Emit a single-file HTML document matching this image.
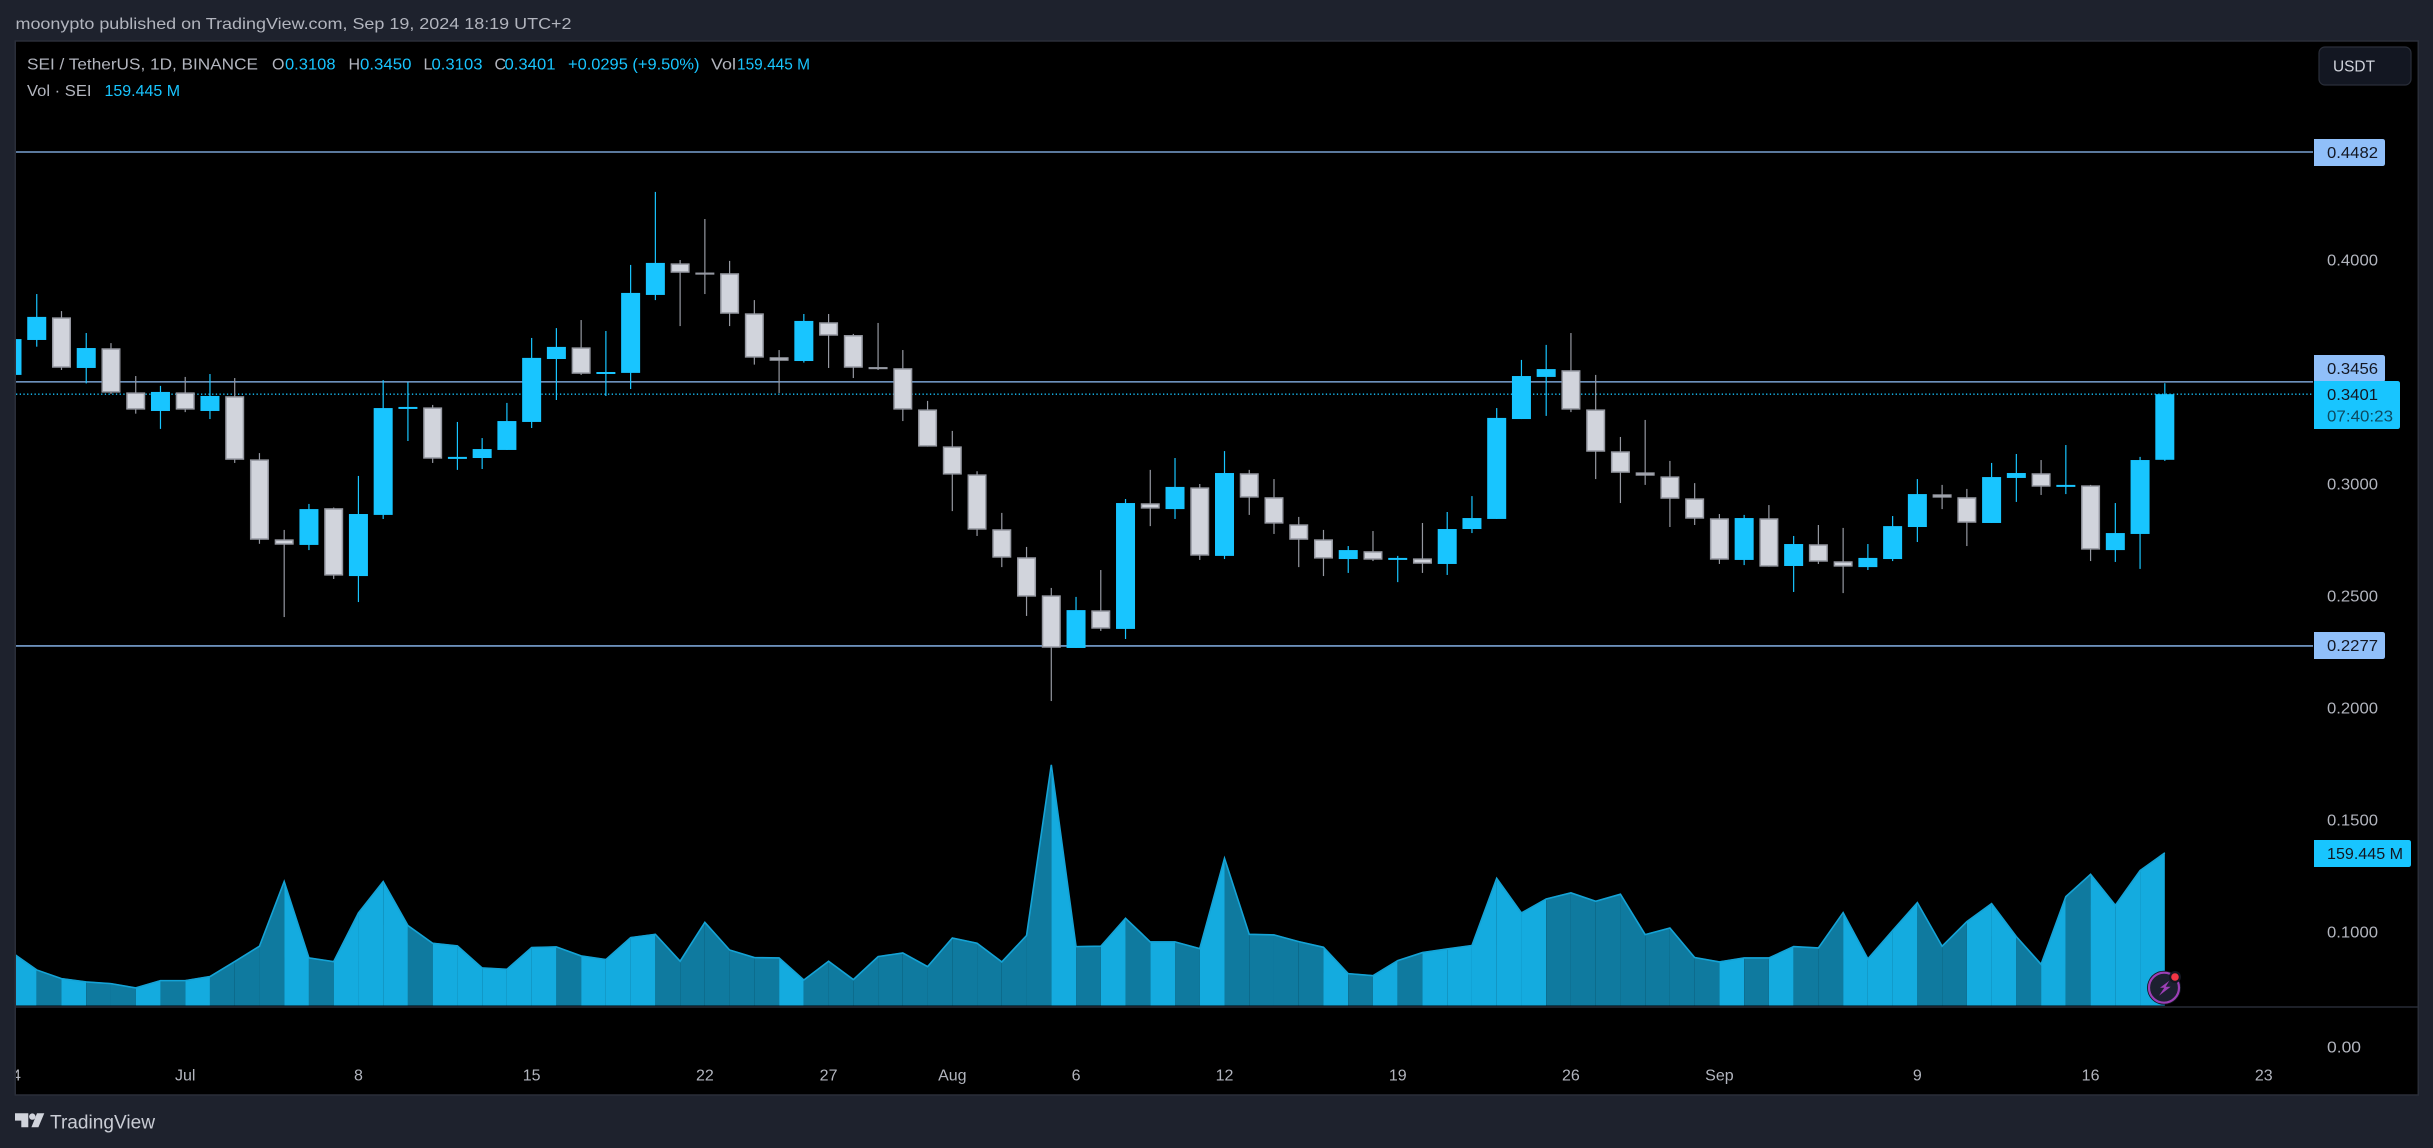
<!DOCTYPE html>
<html lang="en">
<head>
<meta charset="utf-8">
<title>SEI / TetherUS 1D chart</title>
<style>
html,body{margin:0;padding:0;background:#1e222d;width:2433px;height:1148px;overflow:hidden}
svg{display:block;font-family:"Liberation Sans",sans-serif}
</style>
</head>
<body>
<svg id="chart" width="2433" height="1148" viewBox="0 0 2433 1148" xmlns="http://www.w3.org/2000/svg">
  <defs>
    <clipPath id="pane-clip"><rect x="16" y="42" width="2402" height="1053"/></clipPath>
  </defs>
  <rect x="0" y="0" width="2433" height="1148" fill="#1e222d"/>
  <text x="15.5" y="29" font-size="16" fill="#b2b5be" textLength="556" lengthAdjust="spacingAndGlyphs">moonypto published on TradingView.com, Sep 19, 2024 18:19 UTC+2</text>
  <rect x="15.25" y="41" width="2403" height="1054" fill="#000000" stroke="#2a2e39" stroke-width="1.5"/>

  <g id="levels" clip-path="url(#pane-clip)"></g>
  <g id="volume" clip-path="url(#pane-clip)"></g>
  <g id="candles" clip-path="url(#pane-clip)"></g>
  <rect x="16" y="1006.3" width="2402" height="1.4" fill="#2a2e39"/>
  <g id="xaxis" clip-path="url(#pane-clip)"></g>
  <g id="yaxis"></g>
  <g id="tags"></g>

  <g font-size="16">
    <text x="27" y="69.5" fill="#b2b5be" textLength="231" lengthAdjust="spacingAndGlyphs">SEI / TetherUS, 1D, BINANCE</text>
    <text x="272" y="69.5" fill="#b2b5be">O</text>
    <text x="285" y="69.5" fill="#18c5ff" textLength="50.5" lengthAdjust="spacingAndGlyphs">0.3108</text>
    <text x="348.5" y="69.5" fill="#b2b5be">H</text>
    <text x="360" y="69.5" fill="#18c5ff" textLength="51.5" lengthAdjust="spacingAndGlyphs">0.3450</text>
    <text x="423.5" y="69.5" fill="#b2b5be">L</text>
    <text x="431.5" y="69.5" fill="#18c5ff" textLength="51" lengthAdjust="spacingAndGlyphs">0.3103</text>
    <text x="494.5" y="69.5" fill="#b2b5be">C</text>
    <text x="504.5" y="69.5" fill="#18c5ff" textLength="51" lengthAdjust="spacingAndGlyphs">0.3401</text>
    <text x="568" y="69.5" fill="#18c5ff" textLength="131.5" lengthAdjust="spacingAndGlyphs">+0.0295 (+9.50%)</text>
    <text x="711" y="69.5" fill="#b2b5be" textLength="25" lengthAdjust="spacingAndGlyphs">Vol</text>
    <text x="737" y="69.5" fill="#18c5ff" textLength="73" lengthAdjust="spacingAndGlyphs">159.445 M</text>
    <text x="27" y="96" fill="#b2b5be" textLength="64.5" lengthAdjust="spacingAndGlyphs">Vol · SEI</text>
    <text x="104.5" y="96" fill="#18c5ff" textLength="75.5" lengthAdjust="spacingAndGlyphs">159.445 M</text>
  </g>

  <g>
    <rect x="2319" y="47" width="92" height="38" rx="6" fill="#131722" stroke="#2a2e39" stroke-width="1.2"/>
    <text x="2333" y="71.5" font-size="16" fill="#d1d4dc" textLength="42" lengthAdjust="spacingAndGlyphs">USDT</text>
  </g>

  <g>
    <circle cx="2164" cy="987.7" r="17" fill="#131722"/>
    <circle cx="2164" cy="987.7" r="15" fill="#1c2030" stroke="#9c3fb5" stroke-width="2.2"/>
    <polygon points="2169.3,980.7 2160,987.7 2164.3,987.7 2159,995.7 2170.7,986.7 2165.7,986.7" fill="#9c3fb5"/>
    <circle cx="2175" cy="977" r="6" fill="#131722"/>
    <circle cx="2175" cy="977" r="3.8" fill="#f23645"/>
  </g>

  <g>
    <polygon points="15,1113.3 28.3,1113.3 28.3,1127.3 21.3,1127.3 21.3,1120.6 15,1120.6" fill="#d1d4dc"/>
    <circle cx="32.3" cy="1116.6" r="3.2" fill="#d1d4dc"/>
    <polygon points="37,1113.3 44.3,1113.3 38.4,1127.3 31.4,1127.3" fill="#d1d4dc"/>
    <text x="50" y="1128.5" font-size="19" fill="#c9ccd4" textLength="105" lengthAdjust="spacingAndGlyphs">TradingView</text>
  </g>
</svg>

<script>
const opens=[.3487,.3643,.3744,.3518,.3606,.3409,.3326,.3409,.3326,.3392,.3110,.2753,.2728,.2892,.2589,.2862,.3340,.3342,.3112,.3116,.3152,.3277,.3558,.3610,.3496,.3496,.3844,.3985,.3944,.3941,.3762,.3566,.3549,.3722,.3665,.3522,.3517,.3333,.3168,.3043,.2798,.2673,.2503,.2268,.2436,.2353,.2914,.2888,.2985,.2679,.3048,.2941,.2820,.2753,.2665,.2700,.2665,.2668,.2643,.2799,.2844,.3290,.3478,.3508,.3333,.3146,.3052,.3034,.2936,.2847,.2661,.2847,.2634,.2731,.2655,.2629,.2665,.2808,.2954,.2941,.2826,.3027,.3048,.2991,.2994,.2705,.2777,.3108];
const highs=[.3700,.3848,.3772,.3674,.3629,.3482,.3438,.3478,.3491,.3473,.3138,.2795,.2911,.2895,.3036,.3464,.3454,.3353,.3277,.3205,.3362,.3652,.3696,.3732,.3683,.3978,.4304,.4000,.4183,.3996,.3821,.3598,.3759,.3759,.3670,.3719,.3598,.3371,.3237,.3057,.2871,.2719,.2536,.2496,.2616,.2933,.3063,.3116,.3000,.3147,.3063,.3022,.2853,.2795,.2723,.2790,.2679,.2826,.2875,.2946,.3339,.3554,.3621,.3674,.3487,.3210,.3286,.3103,.3004,.2866,.2862,.2906,.2768,.2817,.2804,.2732,.2857,.3022,.2996,.2978,.3094,.3134,.3107,.3174,.2996,.2915,.3121,.3450];
const lows=[.3450,.3613,.3509,.3449,.3402,.3314,.3246,.3321,.3290,.3094,.2733,.2406,.2705,.2576,.2473,.2844,.3192,.3094,.3063,.3067,.3152,.3250,.3375,.3487,.3393,.3424,.3821,.3705,.3848,.3705,.3533,.3406,.3542,.3518,.3473,.3509,.3281,.3167,.2879,.2768,.2629,.2411,.2031,.2268,.2344,.2308,.2812,.2844,.2661,.2665,.2862,.2777,.2629,.2589,.2603,.2656,.2562,.2603,.2594,.2781,.2844,.3290,.3304,.3321,.3022,.2915,.2996,.2808,.2817,.2643,.2638,.2631,.2518,.2643,.2513,.2616,.2656,.2741,.2888,.2723,.2826,.2920,.2951,.2955,.2656,.2652,.2621,.3103];
const closes=[.3647,.3746,.3519,.3607,.3408,.3332,.3411,.3332,.3393,.3108,.2751,.2729,.2888,.2591,.2866,.3339,.3344,.3113,.3121,.3156,.3281,.3563,.3612,.3492,.3500,.3853,.3987,.3943,.3938,.3760,.3564,.3550,.3728,.3662,.3519,.3513,.3332,.3167,.3042,.2796,.2671,.2497,.2269,.2437,.2354,.2915,.2890,.2987,.2680,.3049,.2939,.2823,.2751,.2667,.2705,.2662,.2670,.2644,.2799,.2848,.3295,.3482,.3513,.3332,.3144,.3050,.3037,.2934,.2845,.2662,.2848,.2631,.2732,.2653,.2631,.2670,.2812,.2955,.2939,.2827,.3031,.3049,.2988,.2996,.2707,.2781,.3107,.3401];
const volumes=[55.7,37.6,28.6,25.1,23.4,18.9,26.5,26.5,30.7,46.3,62.3,129.6,50.1,46.3,96.9,129.6,83.8,65.4,62.6,39.7,38.3,60.9,61.6,52.2,48.4,71.3,74.7,46.7,87.2,58.4,50.5,50.1,27.2,46.7,27.6,51.5,55.3,41.1,70.9,65.4,46.0,73.4,251.0,61.9,62.3,91.4,66.8,66.8,59.8,153.8,74.7,74.1,67.1,61.2,33.8,31.7,47.3,55.7,59.5,63.0,133.0,96.9,111.5,117.8,109.1,116.4,74.4,81.3,50.5,46.0,50.1,50.1,61.9,60.5,97.3,49.1,78.6,107.7,62.3,87.9,106.7,72.3,43.5,113.9,137.2,104.9,141.0,159.445];
const timeTickLabels=["24","Jul","8","15","22","27","Aug","6","12","19","26","Sep","9","16","23"];
const timeTickBars=[0,7,14,21,28,33,38,43,49,56,63,69,77,84,91];
const priceTicks=[0.4,0.3,0.25,0.2,0.15,0.1];
const keyLevels=[0.4482,0.3456,0.2277];
const lastPrice=0.3401;
const countdownText="07:40:23";
const lastVolumeText="159.445 M";
const volumeAxisLabel="0.00";

const NS="http://www.w3.org/2000/svg";
function xAt(i){return 12+24.745*i;}
function yPrice(p){return 484-(p-0.3)*2240;}
function yVolume(v){return 1005.5-v*0.961;}
function make(tag,parent,props){
  const el=document.createElementNS(NS,tag);
  for(const k in props){el.setAttribute(k,props[k]);}
  parent.appendChild(el);
  return el;
}
const levelsG=document.getElementById('levels');
const volumeG=document.getElementById('volume');
const candlesG=document.getElementById('candles');
const xaxisG=document.getElementById('xaxis');
const yaxisG=document.getElementById('yaxis');
const tagsG=document.getElementById('tags');

/* horizontal levels + tags */
keyLevels.forEach(function(p){
  const y=yPrice(p);
  const line=make('line',levelsG,{x1:16,x2:2313,y1:y,y2:y,stroke:'#90bff9','stroke-width':1.3});
  
  
});
const lastY=yPrice(lastPrice);
const lastLine=make('line',levelsG,{x1:16,x2:2313,y1:lastY,y2:lastY,stroke:'#18c5ff','stroke-width':1.3,'stroke-dasharray':'1.3 2.4'});



/* volume area */
for(let i=1;i<volumes.length;i++){
  const up=closes[i]>=opens[i];
  const x0=xAt(i-1),x1=xAt(i);
  const pts=[x0,1005.5,x0,yVolume(volumes[i-1]),x1,yVolume(volumes[i]),x1,1005.5].join(' ');
  const seg=make('polygon',volumeG,{points:pts,fill:up?'#14abdf':'#0f7a9f'});
  
  
}
const volPts=volumes.map(function(v,i){return xAt(i)+','+(yVolume(v)+0.6);}).join(' ');
const volLine=make('polyline',volumeG,{points:volPts,fill:'none',stroke:'#14a3d6','stroke-width':1.6});



/* candles */
for(let i=0;i<opens.length;i++){
  const up=closes[i]>=opens[i];
  const x=xAt(i);
  const yTop=yPrice(Math.max(opens[i],closes[i]));
  const yBot=yPrice(Math.min(opens[i],closes[i]));
  const h=Math.max(yBot-yTop,2);
  const wick=make('line',candlesG,{x1:x,x2:x,y1:yPrice(highs[i]),y2:yPrice(lows[i]),stroke:up?'#18c5ff':'#9598a1','stroke-width':1.2});
  
  
  let body;
  if(up){
    body=make('rect',candlesG,{x:x-9.5,y:yTop,width:19,height:h,fill:'#18c5ff'});
  }else{
    body=make('rect',candlesG,{x:x-8.75,y:yTop+0.75,width:17.5,height:Math.max(h-1.5,0.6),fill:'#d1d4dc',stroke:'#9598a1','stroke-width':1.5});
  }
  
  
}

/* time axis */
timeTickLabels.forEach(function(label,i){
  const t=make('text',xaxisG,{x:xAt(timeTickBars[i]),y:1080.5,'text-anchor':'middle','font-size':16,fill:'#b2b5be'});
  t.textContent=label;
  
  
});

/* price axis */
priceTicks.forEach(function(p){
  const t=make('text',yaxisG,{x:2327,y:yPrice(p)+5.7,'font-size':16,fill:'#b2b5be',textLength:51,lengthAdjust:'spacingAndGlyphs'});
  t.textContent=p.toFixed(4);
  
  
});
const zeroTick=make('text',yaxisG,{x:2327,y:1052.7,'font-size':16,fill:'#b2b5be',textLength:34,lengthAdjust:'spacingAndGlyphs'});
zeroTick.textContent=volumeAxisLabel;



/* tags: a level tag colliding with the last-price tag is pushed up above it */
function tagPath(x,y,w,h){
  const r=2.5;
  return 'M'+x+' '+y+'H'+(x+w-r)+'Q'+(x+w)+' '+y+' '+(x+w)+' '+(y+r)+'V'+(y+h-r)+'Q'+(x+w)+' '+(y+h)+' '+(x+w-r)+' '+(y+h)+'H'+x+'Z';
}
const lastTagTop=Math.round(lastY-13);
const lastTagHeight=48;
keyLevels.forEach(function(p){
  const y=yPrice(p);
  let top=Math.round(y-13.5);
  if(top+27>lastTagTop && top<lastTagTop+lastTagHeight){
    top=lastTagTop-26;
  }
  const box=make('path',tagsG,{d:tagPath(2314,top,71,27),fill:'#90bff9'});
  
  
  const t=make('text',tagsG,{x:2327,y:top+19.2,'font-size':16,fill:'#131722',textLength:51,lengthAdjust:'spacingAndGlyphs'});
  t.textContent=p.toFixed(4);
  
  
});
const lastBox=make('path',tagsG,{d:tagPath(2314,lastTagTop,86,lastTagHeight),fill:'#18c5ff'});


const lastText=make('text',tagsG,{x:2327,y:lastY+6,'font-size':16,fill:'#131722',textLength:51,lengthAdjust:'spacingAndGlyphs'});
lastText.textContent=lastPrice.toFixed(4);


const countText=make('text',tagsG,{x:2327,y:lastTagTop+40.5,'font-size':16,fill:'#0d4a60',textLength:66,lengthAdjust:'spacingAndGlyphs'});
countText.textContent=countdownText;


const volBox=make('path',tagsG,{d:tagPath(2314,840,97,27),fill:'#18c5ff'});


const volText=make('text',tagsG,{x:2327,y:859.2,'font-size':16,fill:'#131722',textLength:76,lengthAdjust:'spacingAndGlyphs'});
volText.textContent=lastVolumeText;


</script>
</body>
</html>
